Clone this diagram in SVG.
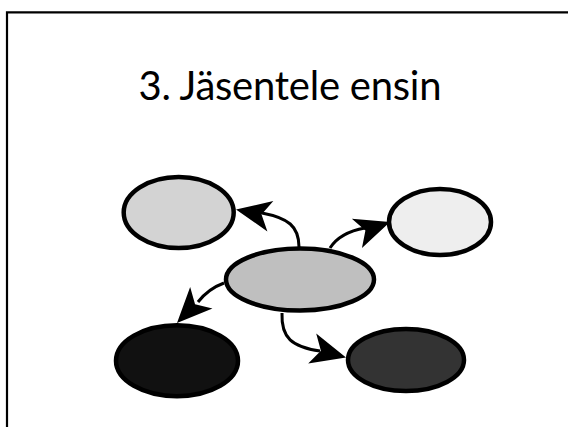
<svg xmlns="http://www.w3.org/2000/svg" width="568" height="427" viewBox="0 0 568 427">
<style>
.frame{stroke:#000;stroke-width:2.2;fill:none}
.node{stroke:#000;stroke-width:4.5}
.edge{stroke:#000;stroke-width:3;fill:none}
.title{font-family:Lato,"Open Sans","Liberation Sans",sans-serif;font-size:40px;fill:#000}
</style>
<defs>
<path id="ah" d="M0,0 L-35,-15.5 L-26,0 L-35,15.5 Z" fill="#000"/>
</defs>
<rect width="568" height="427" fill="#fff"/>
<path class="frame" d="M7,427 V12.3 H568"/>
<text class="title" x="290" y="100" text-anchor="middle" textLength="303">3. Jäsentele ensin</text>
<g id="connectors">
<path class="edge" d="M299,247 C299,226 288,218 262,213"/>
<use href="#ah" transform="translate(236,209.5) rotate(191)"/>
<path class="edge" d="M330,248 C337,237 348,231 365,228"/>
<use href="#ah" transform="translate(390,222) rotate(-19)"/>
<path class="edge" d="M224,283 C213,287 205,293 198,302"/>
<use href="#ah" transform="translate(177,323) rotate(134)"/>
<path class="edge" d="M282,313 C281,338 292,347 320,351"/>
<use href="#ah" transform="translate(346,357.5) rotate(15)"/>
</g>
<g id="node-center"><ellipse class="node" cx="300" cy="279.5" rx="74" ry="31" fill="#bfbfbf"/></g>
<g id="node-topleft"><ellipse class="node" cx="178.7" cy="212.5" rx="55" ry="35.5" fill="#d3d3d3"/></g>
<g id="node-topright"><ellipse class="node" cx="440" cy="222" rx="51" ry="33" fill="#eeeeee"/></g>
<g id="node-bottomleft"><ellipse class="node" cx="177" cy="360.7" rx="61" ry="35.5" fill="#111111"/></g>
<g id="node-bottomright"><ellipse class="node" cx="406" cy="360" rx="58" ry="31" fill="#333333"/></g>
</svg>
